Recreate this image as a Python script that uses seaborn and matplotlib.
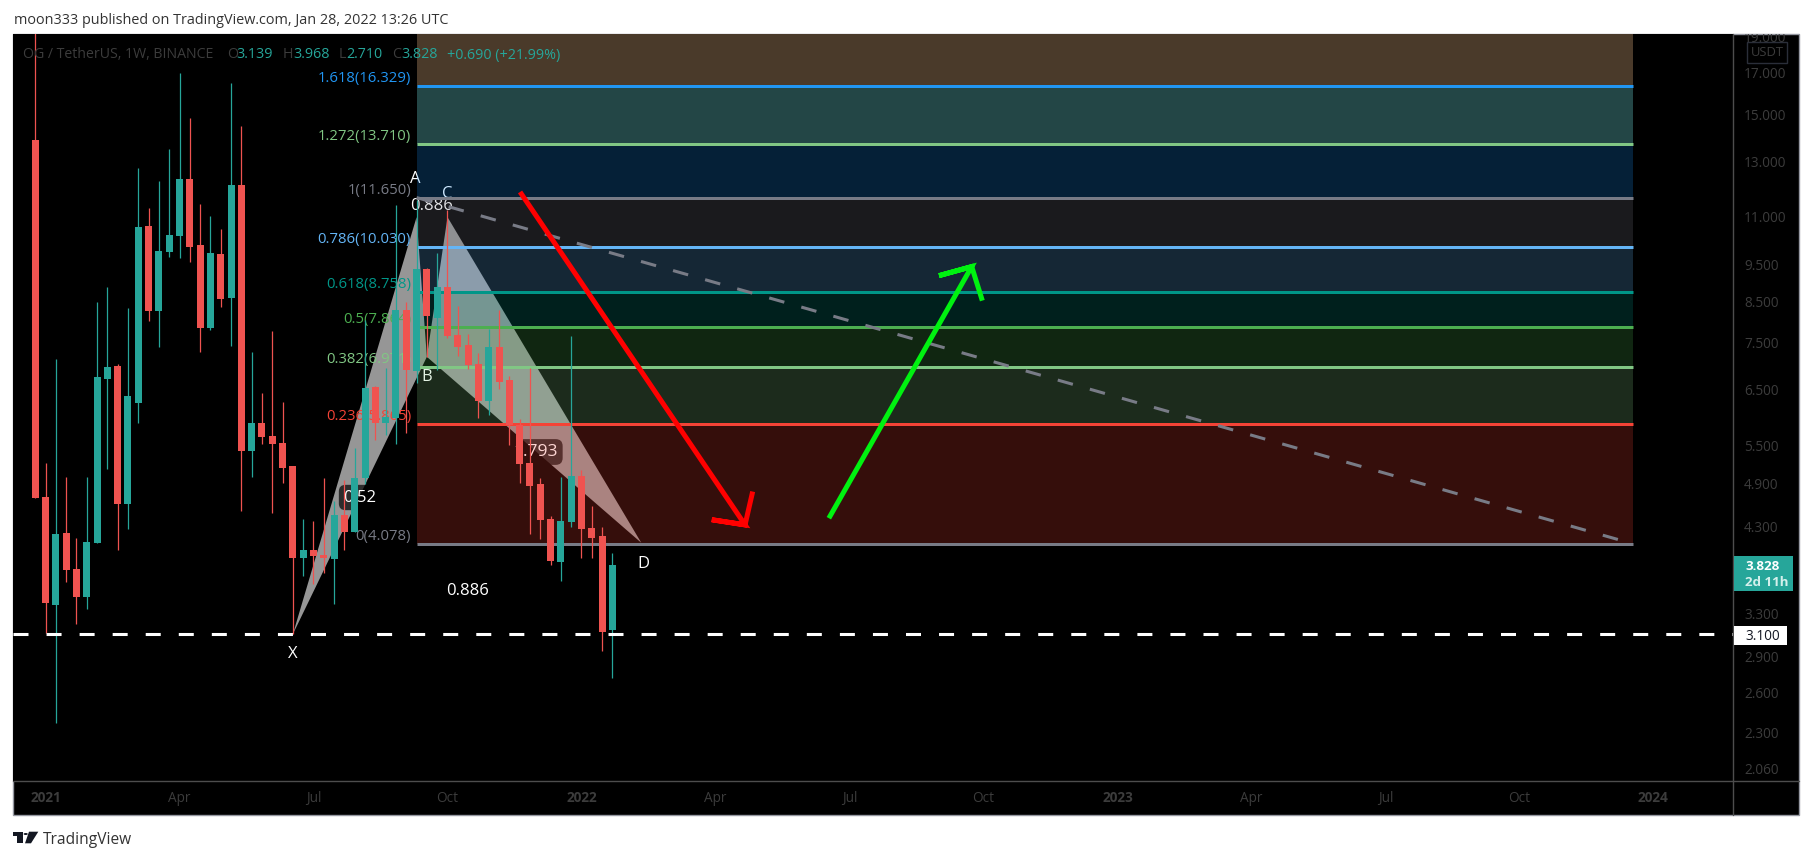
import matplotlib
matplotlib.use("Agg")
import matplotlib.pyplot as plt
import seaborn as sns
import pandas as pd
from matplotlib.lines import Line2D
from matplotlib.patches import Rectangle, FancyBboxPatch, Polygon, Circle
from matplotlib.transforms import Bbox

# ---------- weekly candles (OG/USDT, price values) ----------
highs = [22.0, 5.212, 7.143, 4.996, 4.153, 4.996, 8.491, 8.886, 7.036, 8.338, 12.745, 11.290, 12.254, 13.501,
         17.0, 14.831, 11.430, 11.020, 10.594, 16.492, 14.477, 7.297, 6.444, 7.776, 6.271, 5.165, 4.399, 4.373,
         4.981, 4.646, 4.951, 5.455, 8.040, 6.583, 6.952, 11.396, 8.491, 11.568, 9.413, 9.851, 11.222, 8.389,
         7.706, 7.275, 7.823, 8.288, 6.784, 5.956, 6.952, 4.981, 4.439, 4.996, 7.659, 5.103, 4.574, 4.294, 3.968]
body_tops = [13.875, 4.703, 4.203, 4.216, 3.780, 4.103, 6.764, 6.973, 6.995, 6.386, 10.660, 10.692, 9.911, 10.403,
             12.328, 12.328, 10.095, 9.851, 9.821, 12.107, 12.107, 5.884, 5.884, 5.657, 5.538, 5.165, 4.005, 4.005,
             3.945, 4.453, 4.453, 4.981, 6.543, 6.563, 5.992, 8.288, 8.288, 9.384, 9.384, 8.886, 8.886, 7.682,
             7.453, 7.036, 7.408, 7.408, 6.703, 5.849, 5.213, 4.892, 4.399, 4.373, 5.011, 5.011, 4.281, 4.178, 3.828]
body_bots = [4.688, 3.410, 3.390, 3.769, 3.473, 3.473, 4.090, 6.723, 4.604, 4.604, 6.252, 8.263, 8.263, 9.881,
             10.372, 10.034, 7.847, 7.847, 8.569, 8.595, 5.406, 5.406, 5.640, 5.521, 5.134, 3.909, 3.909, 3.933,
             3.909, 3.897, 4.229, 4.229, 4.981, 5.884, 5.884, 5.974, 6.910, 6.889, 8.136, 8.088, 7.659, 7.408,
             7.015, 6.290, 6.290, 6.663, 5.849, 5.197, 4.861, 4.386, 3.873, 3.862, 4.360, 4.268, 4.153, 3.123, 3.139]
lows = [4.688, 3.113, 2.370, 3.634, 3.200, 3.349, 4.090, 5.118, 4.005, 4.268, 5.884, 8.016, 7.408, 9.732,
        9.703, 9.586, 7.297, 7.800, 8.363, 7.431, 4.506, 4.996, 5.521, 4.480, 4.907, 3.104, 3.700, 3.612,
        3.735, 3.400, 4.005, 4.229, 4.892, 5.589, 5.674, 5.521, 5.709, 6.643, 7.187, 6.910, 7.613, 7.209,
        6.931, 5.974, 6.029, 6.523, 5.504, 4.907, 4.203, 4.141, 3.827, 3.645, 4.294, 3.909, 3.909, 2.949, 2.710]
directions = list("RRGRRGGGRGGRGGGRRGRGRGRRRRGRRGRGGRGGRGRGRRRRGRRRRRRGGRRRG")

# ---------- Fibonacci retracement ----------
fib_ratios = ["1.618", "1.272", "1", "0.786", "0.618", "0.5", "0.382", "0.236", "0"]
fib_prices = [16.329, 13.710, 11.650, 10.030, 8.758, 7.864, 6.971, 5.865, 4.078]
fib_colors = ["#2196f3", "#81c784", "#787b86", "#64b5f6", "#009688", "#4caf50", "#81c784", "#f44336", "#787b86"]
zone_colors = ["#f7c18c", "#81feff", "#1b96ff", "#787b86", "#64b5f6", "#009688", "#4caf50", "#81c784", "#f44336"]
zone_alphas = [0.30, 0.28, 0.22, 0.22, 0.22, 0.22, 0.22, 0.22, 0.22]
fib_start, fib_end = 37, 155
top_price = 25.0

# ---------- harmonic pattern ----------
xab_x, xab_y = [25, 37, 38], [3.10, 10.98, 7.187]
bcd_x, bcd_y = [38, 40, 58.8], [7.187, 10.98, 4.09]

# ---------- arrows ----------
red_x, red_y = [47.04, 68.87, 65.64, 68.87, 69.61], [11.85, 4.318, 4.386, 4.318, 4.777]
green_x, green_y = [77.0, 90.86, 87.69, 90.86, 91.89], [4.406, 9.449, 9.194, 9.449, 8.523]
support = 3.10
last_close = 3.828

# ---------- axes labels ----------
price_ticks = [2.06, 2.3, 2.6, 2.9, 3.3, 4.3, 4.9, 5.5, 6.5, 7.5, 8.5, 9.5, 11, 13, 15, 17, 19]
time_ticks = [1, 14, 27, 40, 53, 66, 79, 92, 105, 118, 131, 144, 157]
time_labels = ["2021", "Apr", "Jul", "Oct", "2022", "Apr", "Jul", "Oct", "2023", "Apr", "Jul", "Oct", "2024"]
year_labels = {"2021", "2022", "2023", "2024"}

UP, DOWN = "#26a69a", "#ef5350"
W, H = 1813, 860
FONT = ["Open Sans", "DejaVu Sans"]

sns.set_theme(style="dark")
plt.rcParams["font.family"] = FONT
plt.rcParams["lines.scale_dashes"] = False

fig = plt.figure(figsize=(W / 100, H / 100), dpi=100, facecolor="white")


def fx(px):
    return px / W


def fy(py):
    return 1 - py / H


# chart frame and black background
fig.add_artist(Rectangle((fx(13), fy(815)), fx(1799) - fx(13), fy(34) - fy(815), transform=fig.transFigure,
                         facecolor="black", edgecolor="#9598a1", lw=1.0, zorder=-5))

ax = fig.add_axes([fx(13), fy(781), fx(1733) - fx(13), fy(34) - fy(781)], facecolor="black")
ax.set_yscale("log")
ax.set_xlim(-2.154, 164.72)
ax.set_ylim(1.986, 19.13)
ax.grid(False)
for s in ax.spines.values():
    s.set_visible(False)

# harmonic pattern under the fib zones
ax.fill(xab_x, xab_y, color="#969696", lw=0, zorder=1)
ax.fill(bcd_x, bcd_y, color="#969696", lw=0, zorder=1)


def under(px, py, s, size=12.0, **kw):
    ax.text(fx(px), fy(py), s, transform=fig.transFigure, ha="center", va="center", color="white",
            fontsize=size, zorder=1.5, clip_on=False, **kw)


box = dict(boxstyle="round,pad=0.28,rounding_size=0.4", facecolor="black", edgecolor="none", alpha=0.7)
under(415.7, 179, "A", 12)
under(447, 194, "C", 12)
under(431.7, 205.5, "0.886")
under(427, 377, "B", 12)
under(293, 654, "X", 12)
under(643, 564, "D", 12)
under(468, 591, "0.886")
under(360, 497.5, "0.52", bbox=box)
under(535.5, 452, "1.793", 12.6, bbox=box)

# fib zones and level lines
uppers = [top_price] + fib_prices[:-1]
for lo, up, c, a in zip(fib_prices, uppers, zone_colors, zone_alphas):
    ax.fill_between([fib_start, fib_end], lo, up, color=c, alpha=a, lw=0, zorder=2)

levels = pd.DataFrame({
    "x": [fib_start, fib_end] * len(fib_prices),
    "price": [p for p in fib_prices for _ in range(2)],
    "level": [r for r in fib_ratios for _ in range(2)],
})
sns.lineplot(data=levels, x="x", y="price", hue="level", units="level", estimator=None,
             palette=dict(zip(fib_ratios, fib_colors)), hue_order=fib_ratios, legend=False,
             linewidth=2.16, solid_capstyle="butt", ax=ax, zorder=3)
for r, p, c in zip(fib_ratios, fib_prices, fib_colors):
    ax.annotate(f"{r}({p:.3f})", (fib_start, p), xytext=(-4, 5.2), textcoords="offset points",
                ha="right", va="center", color=c, fontsize=10.7, zorder=3)

# dashed trend line of the fib tool
ax.plot([fib_start, fib_end], [fib_prices[2], fib_prices[-1]], color="#787b86", lw=2.2,
        dashes=(11.3, 12.7), dash_capstyle="butt", zorder=3)

# candles
weeks = list(range(len(highs)))
wicks = pd.DataFrame({
    "week": weeks * 2,
    "price": highs + lows,
    "dir": directions * 2,
})
sns.lineplot(data=wicks, x="week", y="price", hue="dir", units="week", estimator=None, sort=False,
             palette={"R": DOWN, "G": UP}, legend=False, linewidth=0.9, solid_capstyle="butt", ax=ax, zorder=4)
colors = [UP if d == "G" else DOWN for d in directions]
ax.bar(weeks, [t - b for t, b in zip(body_tops, body_bots)], bottom=body_bots, width=0.68,
       color=colors, lw=0, zorder=4.5)

# support, arrows
ax.axhline(support, color="white", lw=2.2, dashes=(10.8, 13.0), dash_capstyle="butt", zorder=5)
ax.plot(red_x, red_y, color="#ff0000", lw=3.6, solid_joinstyle="miter", solid_capstyle="butt", zorder=6)
ax.plot(green_x, green_y, color="#00f210", lw=3.6, solid_joinstyle="miter", solid_capstyle="butt", zorder=6)

# axes: real ticks on the right and at the bottom
ax.set_xlabel("")
ax.set_ylabel("")
ax.yaxis.tick_right()
ax.set_yticks(price_ticks)
ax.set_yticklabels([f"{t:.3f}" for t in price_ticks])
ax.minorticks_off()
ax.tick_params(axis="y", length=0, pad=8.0, labelcolor="#3c3c3c", labelsize=9.8, right=True, left=False)
for lab in ax.get_yticklabels():
    lab.set_ha("left")
    lab.set_clip_on(True)
    lab.set_clip_box(Bbox.from_extents(1734, H - 815, 1799, H - 34))
ax.set_xticks(time_ticks)
ax.set_xticklabels(time_labels)
ax.tick_params(axis="x", length=0, pad=7.0, labelcolor="#3c3c3c", labelsize=9.8)
for lab in ax.get_xticklabels():
    if lab.get_text() in year_labels:
        lab.set_fontweight("bold")

# separators
for xs, ys in [((13, 1799), (781, 781)), ((1733, 1733), (34, 815))]:
    fig.add_artist(Line2D([fx(xs[0]), fx(xs[1])], [fy(ys[0]), fy(ys[1])], transform=fig.transFigure,
                          color="#4d4d4d", lw=1.0))


def top_text(px, py, s, color, size=10.0, ha="left", weight="normal", z=8):
    fig.text(fx(px), fy(py), s, color=color, fontsize=size, ha=ha, va="center", fontweight=weight, zorder=z)


# header
top_text(14, 21, "moon333 published on TradingView.com, Jan 28, 2022 13:26 UTC", "#333333", 10.4)

# legend line
GREY = "#3c3c3c"
top_text(23, 55, "OG / TetherUS, 1W, BINANCE", GREY, 10.2)
for lx, l, vx, v in [(227, "O", 236, "3.139"), (283, "H", 293, "3.968"), (339, "L", 346, "2.710"), (392, "C", 401, "3.828")]:
    top_text(lx, 55, l, GREY, 10.3)
    top_text(vx, 55, v, UP, 10.3)
top_text(447, 55, "+0.690 (+21.99%)", UP, 10.3)

# price axis badges
fig.add_artist(FancyBboxPatch((fx(1734), fy(591)), fx(59), fy(556) - fy(591), transform=fig.transFigure,
                              boxstyle="square,pad=0", facecolor=UP, edgecolor="none", zorder=7))
top_text(1745, 566, "3.828", "white", 9.6, weight="bold")
top_text(1745, 582, "2d 11h", "#d4f0ec", 9.6, weight="bold")
fig.add_artist(FancyBboxPatch((fx(1734), fy(645)), fx(53), fy(626) - fy(645), transform=fig.transFigure,
                              boxstyle="square,pad=0", facecolor="white", edgecolor="none", zorder=7))
top_text(1745, 636.5, "3.100", "#131722", 9.8)
fig.add_artist(Rectangle((fx(1747), fy(63)), fx(40), fy(42) - fy(63), transform=fig.transFigure,
                         facecolor="black", edgecolor="#2a2e39", lw=1.0, zorder=7))
top_text(1767, 52.5, "USDT", GREY, 9.4, ha="center")

# footer logo and wordmark
logo = "#131722"
for pts in ([(12.7, 831.7), (22.7, 831.7), (22.7, 843.3), (17.3, 843.3), (17.3, 836), (12.7, 836)],
            [(29, 831.7), (38.3, 831.7), (31, 843.3), (25, 843.3)]):
    fig.add_artist(Polygon([(fx(a), fy(b)) for a, b in pts], closed=True, transform=fig.transFigure,
                           facecolor=logo, edgecolor="none"))
fig.add_artist(Circle((fx(25.7), fy(834)), fx(2.1), transform=fig.transFigure, facecolor=logo, edgecolor="none"))
top_text(43, 840, "TradingView", "#333333", 11.2)

fig.savefig("out.png", dpi=100, facecolor="white")
